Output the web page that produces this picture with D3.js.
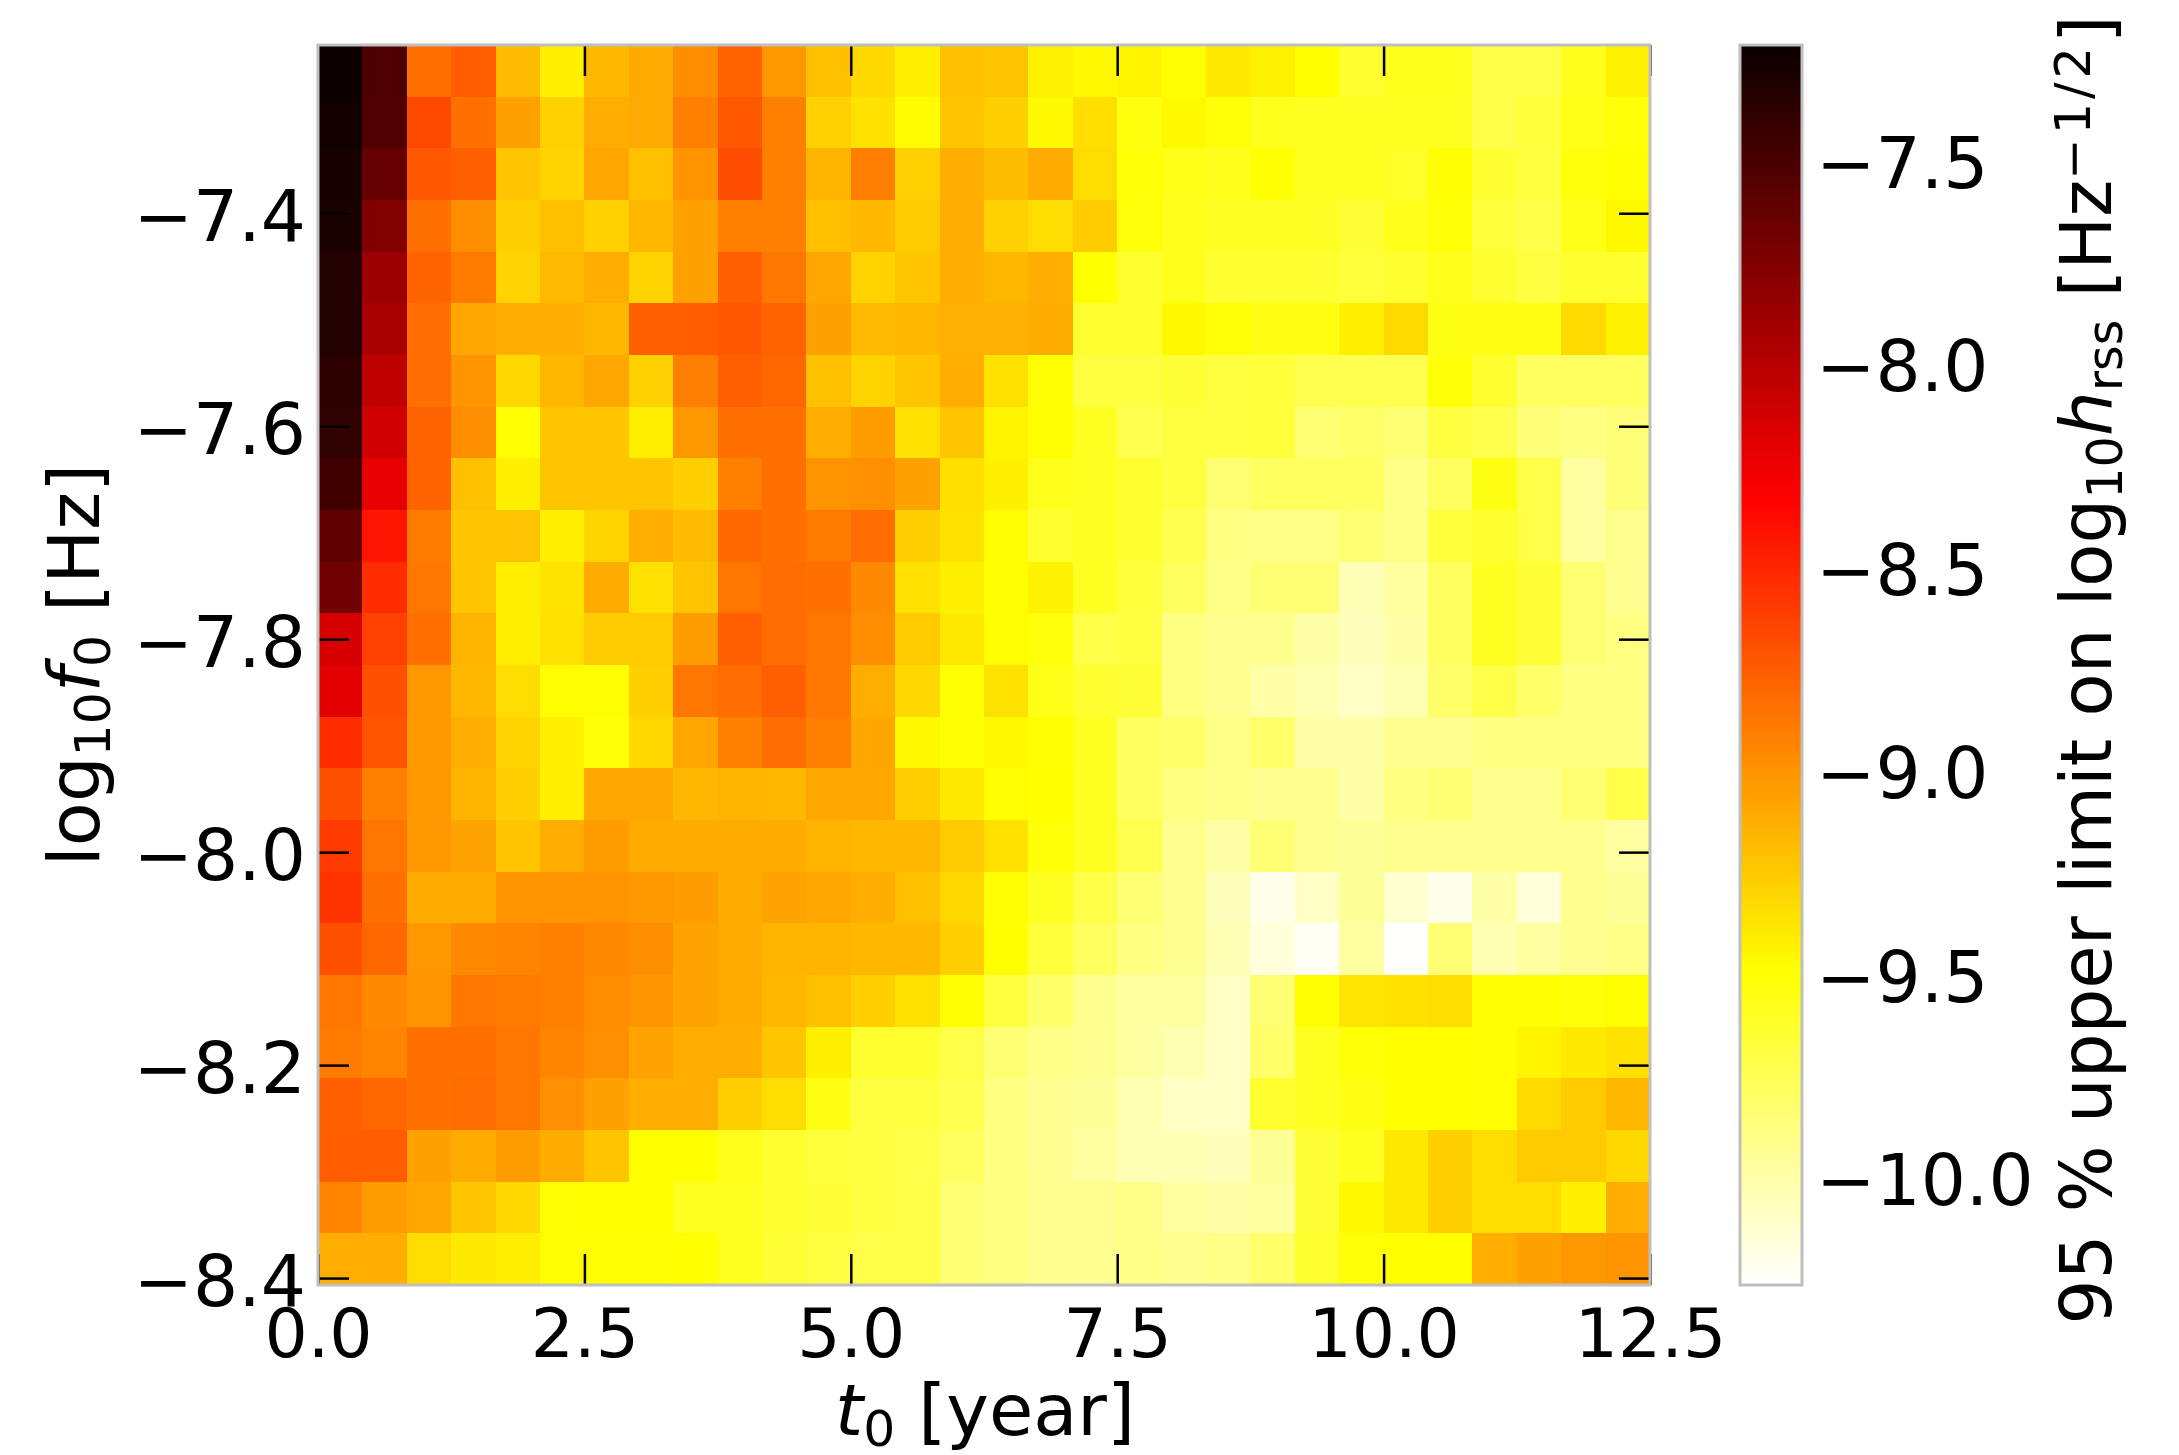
<!DOCTYPE html>
<html><head><meta charset="utf-8">
<script src="https://cdnjs.cloudflare.com/ajax/libs/d3/7.8.5/d3.min.js"></script>
<style>html,body{margin:0;background:#fff}svg{display:block}text{font-family:"DejaVu Sans";fill:#000}</style>
</head><body><svg id="c" width="2179" height="1455"></svg>
<script>
const xTicks=[0,2.5,5,7.5,10,12.5];
const yTicks=[-7.4,-7.6,-7.8,-8.0,-8.2,-8.4];
const cbTicks=[-7.5,-8,-8.5,-9,-9.5,-10];
const t0Max=12.5, logfMin=-8.4065, logfMax=-7.242, vMin=-10.2526, vMax=-7.206;
const row00=[-7.21,-7.50,-8.83,-8.74,-9.17,-9.41,-9.15,-9.09,-8.96,-8.77,-9.01,-9.19,-9.30,-9.41,-9.19,-9.21,-9.42,-9.45,-9.43,-9.47,-9.38,-9.42,-9.48,-9.62,-9.57,-9.57,-9.70,-9.70,-9.56,-9.42];
const row01=[-7.24,-7.52,-8.65,-8.83,-9.05,-9.27,-9.11,-9.09,-8.90,-8.72,-8.90,-9.27,-9.34,-9.46,-9.21,-9.26,-9.45,-9.33,-9.52,-9.45,-9.50,-9.57,-9.58,-9.58,-9.58,-9.58,-9.70,-9.66,-9.55,-9.50];
const row02=[-7.27,-7.62,-8.72,-8.75,-9.22,-9.28,-9.08,-9.19,-8.99,-8.67,-8.90,-9.14,-8.90,-9.27,-9.11,-9.18,-9.09,-9.32,-9.50,-9.55,-9.56,-9.49,-9.58,-9.58,-9.60,-9.49,-9.63,-9.68,-9.51,-9.49];
const row03=[-7.28,-7.74,-8.83,-8.96,-9.26,-9.19,-9.27,-9.15,-9.05,-8.90,-8.90,-9.19,-9.15,-9.24,-9.11,-9.27,-9.32,-9.24,-9.51,-9.56,-9.59,-9.59,-9.59,-9.64,-9.56,-9.50,-9.66,-9.70,-9.55,-9.45];
const row04=[-7.30,-7.87,-8.77,-8.88,-9.28,-9.16,-9.11,-9.28,-9.05,-8.75,-8.86,-9.08,-9.28,-9.22,-9.11,-9.15,-9.11,-9.48,-9.62,-9.56,-9.63,-9.63,-9.63,-9.66,-9.62,-9.56,-9.62,-9.68,-9.62,-9.62];
const row05=[-7.31,-7.92,-8.82,-9.08,-9.11,-9.11,-9.15,-8.75,-8.74,-8.72,-8.77,-9.05,-9.16,-9.15,-9.12,-9.12,-9.10,-9.62,-9.62,-9.45,-9.50,-9.54,-9.54,-9.41,-9.31,-9.54,-9.54,-9.54,-9.31,-9.42];
const row06=[-7.36,-8.02,-8.82,-8.99,-9.30,-9.15,-9.08,-9.27,-8.90,-8.75,-8.79,-9.19,-9.28,-9.22,-9.11,-9.34,-9.49,-9.68,-9.68,-9.64,-9.68,-9.66,-9.72,-9.72,-9.72,-9.50,-9.62,-9.77,-9.77,-9.77];
const row07=[-7.38,-8.11,-8.77,-8.96,-9.47,-9.22,-9.22,-9.40,-9.01,-8.83,-8.83,-9.11,-9.03,-9.34,-9.22,-9.43,-9.47,-9.58,-9.72,-9.68,-9.68,-9.66,-9.83,-9.80,-9.83,-9.68,-9.71,-9.84,-9.87,-9.84];
const row08=[-7.45,-8.21,-8.77,-9.19,-9.41,-9.22,-9.22,-9.22,-9.26,-8.90,-8.83,-8.99,-8.97,-9.05,-9.33,-9.41,-9.56,-9.58,-9.62,-9.68,-9.83,-9.77,-9.77,-9.77,-9.89,-9.77,-9.54,-9.70,-9.97,-9.84];
const row09=[-7.60,-8.41,-8.88,-9.22,-9.20,-9.41,-9.28,-9.11,-9.17,-8.79,-8.83,-8.88,-8.81,-9.26,-9.34,-9.47,-9.62,-9.58,-9.62,-9.72,-9.87,-9.89,-9.89,-9.83,-9.89,-9.66,-9.62,-9.70,-9.97,-9.91];
const row10=[-7.67,-8.52,-8.86,-9.22,-9.40,-9.35,-9.10,-9.34,-9.21,-8.85,-8.81,-8.83,-8.94,-9.34,-9.41,-9.47,-9.42,-9.58,-9.66,-9.77,-9.89,-9.83,-9.83,-10.03,-9.96,-9.77,-9.58,-9.64,-9.83,-9.92];
const row11=[-8.13,-8.61,-8.83,-9.14,-9.40,-9.34,-9.24,-9.24,-9.03,-8.75,-8.81,-8.85,-8.96,-9.24,-9.38,-9.47,-9.51,-9.70,-9.68,-9.87,-9.91,-9.91,-9.99,-10.05,-9.99,-9.77,-9.58,-9.64,-9.83,-9.87];
const row12=[-8.19,-8.68,-9.01,-9.15,-9.32,-9.47,-9.47,-9.26,-8.86,-8.81,-8.75,-8.86,-9.11,-9.30,-9.49,-9.34,-9.55,-9.62,-9.64,-9.87,-9.91,-9.99,-10.02,-10.08,-10.02,-9.80,-9.70,-9.80,-9.87,-9.87];
const row13=[-8.52,-8.70,-9.01,-9.11,-9.28,-9.41,-9.50,-9.30,-9.08,-8.90,-8.81,-8.90,-9.08,-9.45,-9.49,-9.45,-9.47,-9.58,-9.77,-9.80,-9.89,-9.80,-9.99,-9.99,-9.92,-9.92,-9.87,-9.87,-9.87,-9.87];
const row14=[-8.68,-8.90,-9.01,-9.14,-9.26,-9.41,-9.08,-9.08,-9.15,-9.14,-9.15,-9.08,-9.08,-9.26,-9.38,-9.47,-9.48,-9.58,-9.77,-9.87,-9.89,-9.92,-9.91,-9.99,-9.87,-9.83,-9.91,-9.91,-9.83,-9.70];
const row15=[-8.58,-8.85,-9.01,-9.06,-9.22,-9.11,-9.03,-9.10,-9.10,-9.10,-9.10,-9.14,-9.15,-9.15,-9.24,-9.34,-9.50,-9.58,-9.72,-9.91,-9.99,-9.83,-9.92,-9.94,-9.91,-9.91,-9.91,-9.91,-9.91,-9.97];
const row16=[-8.55,-8.83,-9.10,-9.10,-8.99,-8.99,-8.99,-9.01,-9.03,-9.10,-9.06,-9.08,-9.11,-9.19,-9.30,-9.47,-9.58,-9.70,-9.83,-9.91,-10.05,-10.19,-10.08,-9.94,-10.11,-10.19,-9.99,-10.14,-9.91,-9.94];
const row17=[-8.68,-8.79,-9.01,-8.94,-8.92,-8.90,-8.94,-8.96,-9.06,-9.10,-9.14,-9.14,-9.15,-9.15,-9.26,-9.48,-9.66,-9.77,-9.87,-9.92,-10.03,-10.14,-10.22,-9.97,-10.25,-9.83,-10.02,-9.97,-9.92,-9.89];
const row18=[-8.86,-8.94,-8.99,-8.86,-8.88,-8.90,-8.96,-8.99,-9.06,-9.10,-9.15,-9.19,-9.26,-9.34,-9.49,-9.68,-9.80,-9.91,-9.97,-9.97,-10.08,-9.83,-9.47,-9.36,-9.34,-9.32,-9.47,-9.47,-9.50,-9.47];
const row19=[-8.88,-8.92,-8.83,-8.83,-8.86,-8.92,-8.97,-9.06,-9.11,-9.11,-9.22,-9.41,-9.62,-9.62,-9.70,-9.83,-9.89,-9.92,-9.97,-10.02,-10.08,-9.80,-9.58,-9.50,-9.48,-9.48,-9.47,-9.43,-9.38,-9.34];
const row20=[-8.75,-8.79,-8.83,-8.81,-8.85,-8.97,-9.05,-9.11,-9.11,-9.26,-9.32,-9.54,-9.68,-9.68,-9.72,-9.87,-9.92,-9.94,-10.02,-10.08,-10.08,-9.62,-9.58,-9.54,-9.48,-9.48,-9.47,-9.31,-9.24,-9.15];
const row21=[-8.74,-8.74,-9.05,-9.10,-9.03,-9.10,-9.22,-9.48,-9.48,-9.56,-9.62,-9.66,-9.68,-9.70,-9.77,-9.87,-9.92,-9.97,-10.03,-10.03,-10.05,-9.94,-9.64,-9.58,-9.38,-9.26,-9.32,-9.24,-9.24,-9.30];
const row22=[-8.92,-9.03,-9.08,-9.22,-9.30,-9.47,-9.48,-9.48,-9.58,-9.58,-9.62,-9.64,-9.68,-9.70,-9.83,-9.87,-9.91,-9.92,-9.89,-9.97,-9.99,-9.97,-9.64,-9.45,-9.38,-9.26,-9.32,-9.32,-9.41,-9.11];
const row23=[-9.11,-9.11,-9.32,-9.38,-9.40,-9.47,-9.47,-9.47,-9.48,-9.58,-9.64,-9.68,-9.70,-9.70,-9.83,-9.87,-9.91,-9.92,-9.89,-9.91,-9.89,-9.80,-9.62,-9.50,-9.48,-9.48,-9.11,-9.05,-9.01,-8.99];
const rows=[row00,row01,row02,row03,row04,row05,row06,row07,row08,row09,row10,row11,row12,row13,row14,row15,row16,row17,row18,row19,row20,row21,row22,row23];

const L=318,R=1650,T=45,B=1285,CL=1740,CR=1802;
const fs=72, fsC=70.5, fsX=68, fsY=71;
const svg=d3.select("#c");
const x=d3.scaleLinear().domain([0,t0Max]).range([L,R]);
const y=d3.scaleLinear().domain([logfMin,logfMax]).range([B,T]);
const xCell=d3.scaleBand().domain(d3.range(rows[0].length)).range([L,R]);
const yCell=d3.scaleBand().domain(d3.range(rows.length)).range([T,B]);
const cy=d3.scaleLinear().domain([vMin,vMax]).range([B,T]);
// matplotlib hot_r
const color=d3.scaleLinear()
  .domain([vMax,vMax-0.365*(vMax-vMin),vMax-0.746*(vMax-vMin),vMin])
  .range(["#0b0000","#ff0000","#ffff00","#ffffff"]).clamp(true);

const cells=rows.flatMap((r,j)=>r.map((v,i)=>({i,j,v})));
svg.append("g").attr("shape-rendering","crispEdges").selectAll("rect").data(cells).join("rect")
  .attr("x",d=>xCell(d.i)).attr("y",d=>yCell(d.j))
  .attr("width",xCell.bandwidth()+.5).attr("height",yCell.bandwidth()+.5)
  .attr("fill",d=>color(d.v));

function styleAxis(g,size){
  g.selectAll("text").attr("font-size",size).attr("font-family","DejaVu Sans").attr("fill","#000");
  g.selectAll("line").attr("stroke","#000").attr("stroke-width",2.5);
  g.select(".domain").remove();
}
const tl=31;
svg.append("g").attr("transform",`translate(0,${B})`)
  .call(d3.axisBottom(x).tickValues(xTicks).tickFormat(d3.format(".1f")).tickSize(-tl).tickPadding(20)).call(styleAxis,fsX)
  .selectAll("text").attr("dy","0.76em");
svg.append("g").attr("transform",`translate(0,${T})`)
  .call(d3.axisTop(x).tickValues(xTicks).tickFormat("").tickSize(-tl)).call(styleAxis,fsX);
svg.append("g").attr("transform",`translate(${L},0)`)
  .call(d3.axisLeft(y).tickValues(yTicks).tickFormat(d3.format(".1f")).tickSize(-tl).tickPadding(12)).call(styleAxis,fsY)
  .selectAll("text").attr("dy","0.39em");
svg.append("g").attr("transform",`translate(${R},0)`)
  .call(d3.axisRight(y).tickValues(yTicks).tickFormat("").tickSize(-tl)).call(styleAxis,fsY);

svg.append("rect").attr("x",L).attr("y",T).attr("width",R-L).attr("height",B-T)
  .attr("fill","none").attr("stroke","#bfbfbf").attr("stroke-width",3);

// colour bar
const steps=d3.range(256).map(k=>vMin+(k+.5)*(vMax-vMin)/256);
const stepH=(B-T)/256;
svg.append("g").attr("shape-rendering","crispEdges").selectAll("rect").data(steps).join("rect")
  .attr("x",CL).attr("width",CR-CL).attr("y",d=>cy(d)-stepH/2).attr("height",stepH+.6).attr("fill",d=>color(d));
svg.append("rect").attr("x",CL).attr("y",T).attr("width",CR-CL).attr("height",B-T)
  .attr("fill","none").attr("stroke","#bfbfbf").attr("stroke-width",3);
svg.append("g").attr("transform",`translate(${CR},0)`)
  .call(d3.axisRight(cy).tickValues(cbTicks).tickFormat(d3.format(".1f")).tickSize(0).tickPadding(14)).call(styleAxis,fsY);

function label(sel,parts,size){
  parts.forEach(p=>{
    const s=sel.append("tspan").text(p.t);
    if(p.i) s.attr("font-style","italic");
    if(p.b){s.attr("baseline-shift","-22%").attr("font-size",size*0.7);}
    if(p.u){s.attr("baseline-shift","42%").attr("font-size",size*0.7).attr("letter-spacing","0.08em");}
  });
}
const xl=svg.append("text").attr("x",985).attr("y",1435).attr("text-anchor","middle").attr("font-size",fs);
label(xl,[{t:"t",i:1},{t:"0",b:1},{t:" [year]"}],fs);
const yl=svg.append("text").attr("transform",`translate(99,665) rotate(-90)`).attr("text-anchor","middle").attr("font-size",fs);
label(yl,[{t:"log"},{t:"10",b:1},{t:"f",i:1},{t:"0",b:1},{t:" [Hz]"}],fs);
const cl=svg.append("text").attr("transform",`translate(2111,670) rotate(-90)`).attr("text-anchor","middle").attr("font-size",fsC);
label(cl,[{t:"95 % upper limit on log"},{t:"10",b:1},{t:"h",i:1},{t:"rss",b:1},{t:" [Hz"},{t:"−1/2",u:1},{t:"]"}],fsC);
</script></body></html>
